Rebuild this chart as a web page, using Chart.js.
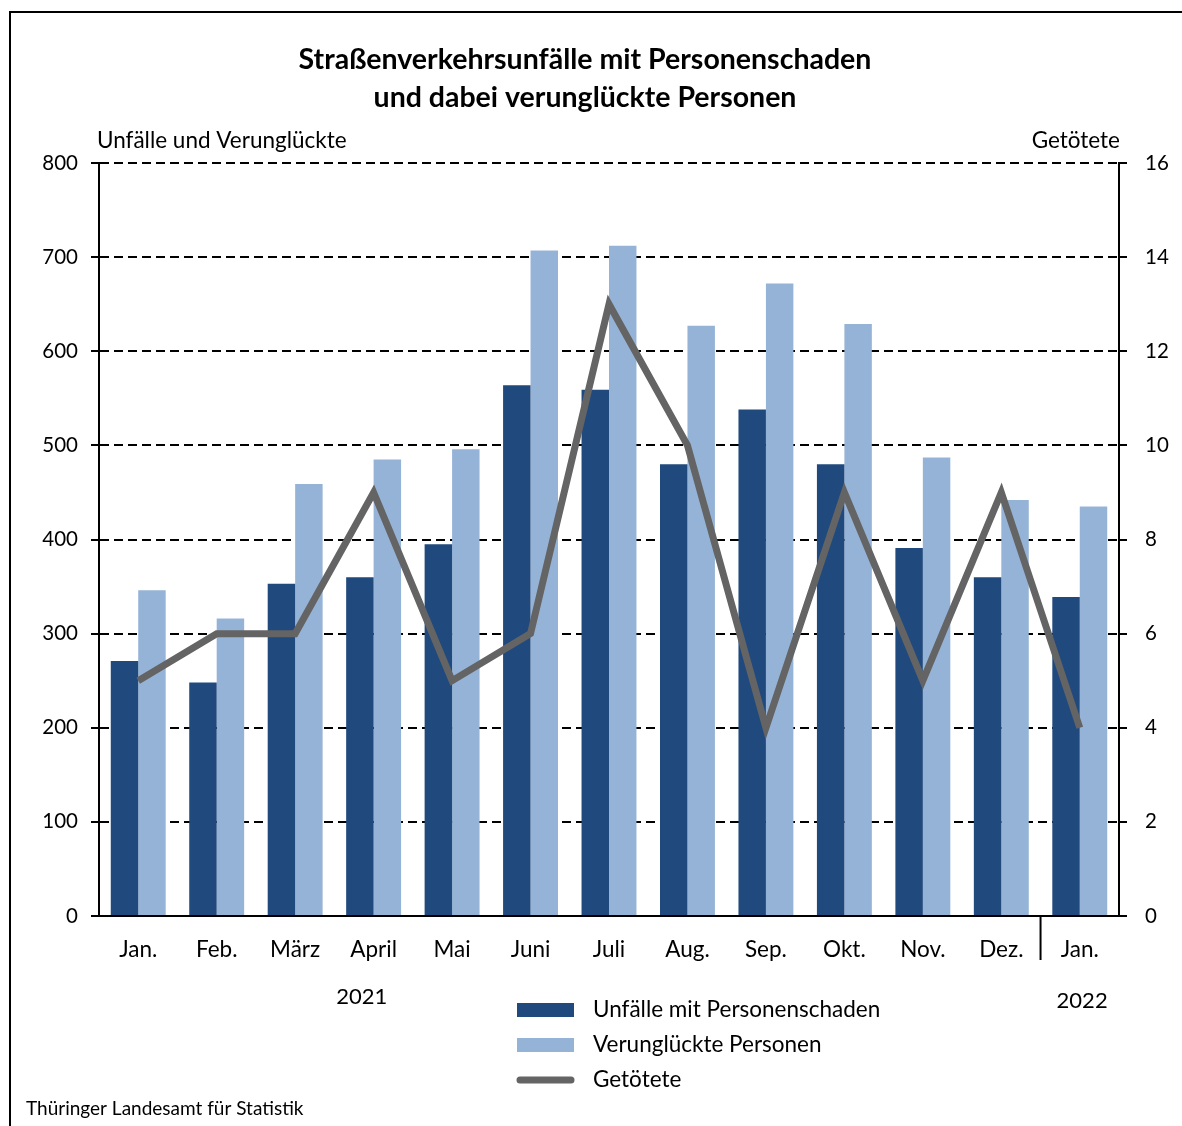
<!DOCTYPE html>
<html lang="de">
<head>
<meta charset="UTF-8">
<title>Straßenverkehrsunfälle</title>
<script src="https://cdn.jsdelivr.net/npm/chart.js@4.4.1/dist/chart.umd.min.js"></script>
<style>
  html, body { margin: 0; padding: 0; background: #fff; }
  #wrap { width: 1182px; height: 1126px; }
</style>
</head>
<body>
<div id="wrap"><canvas id="chart" width="1182" height="1126"></canvas></div>
<script>
// data
const months = ['Jan.', 'Feb.', 'März', 'April', 'Mai', 'Juni', 'Juli', 'Aug.', 'Sep.', 'Okt.', 'Nov.', 'Dez.', 'Jan.'];
const unfaelle = [271, 248, 353, 360, 395, 564, 559, 480, 538, 480, 391, 360, 339];
const verunglueckte = [346, 316, 459, 485, 496, 707, 712, 627, 672, 629, 487, 442, 435];
const getoetete = [5, 6, 6, 9, 5, 6, 13, 10, 4, 9, 5, 9, 4];
const leftTicks = [0, 100, 200, 300, 400, 500, 600, 700, 800];
const rightTicks = [0, 2, 4, 6, 8, 10, 12, 14, 16];

const FONT = 'Lato';
const dark = '#204a7e';
const light = '#95b3d7';
const grey = '#646464';

// title, axis captions, year labels, separator, legend, source, frame
const decor = {
  id: 'decor',
  afterDraw(chart) {
    const ctx = chart.ctx;
    const x = chart.scales.x;
    const area = chart.chartArea;
    ctx.save();
    ctx.strokeStyle = '#000';
    ctx.lineWidth = 2;
    ctx.strokeRect(10, 12, 1300, 1300);

    ctx.fillStyle = '#000';
    ctx.textAlign = 'center';
    ctx.textBaseline = 'middle';
    ctx.font = 'bold 28.5px ' + FONT;
    ctx.fillText('Straßenverkehrsunfälle mit Personenschaden', 585, 60);
    ctx.fillText('und dabei verunglückte Personen', 585, 98);

    ctx.font = '22.5px ' + FONT;
    ctx.textAlign = 'left';
    ctx.fillText('Unfälle und Verunglückte', area.left - 2, 141);
    ctx.textAlign = 'right';
    ctx.fillText('Getötete', area.right + 1, 141);

    // year separator between Dez. and Jan.
    const sep = (x.getPixelForValue(11) + x.getPixelForValue(12)) / 2;
    ctx.beginPath();
    ctx.moveTo(sep, area.bottom);
    ctx.lineTo(sep, area.bottom + 44);
    ctx.stroke();

    ctx.textAlign = 'center';
    ctx.font = '22px ' + FONT;
    ctx.fillText('2021', x.getPixelForValue(2.85), 997);
    ctx.fillText('2022', x.getPixelForValue(12.03), 1001);

    // legend
    const ds = chart.data.datasets;
    const lx = 517, lw = 57;
    const rows = [1010, 1045, 1080];
    ds.forEach((d, i) => {
      const y = rows[i];
      if (d.type === 'line') {
        ctx.strokeStyle = d.borderColor;
        ctx.lineWidth = 7;
        ctx.lineCap = 'round';
        ctx.beginPath();
        ctx.moveTo(lx + 3, y);
        ctx.lineTo(lx + lw - 3, y);
        ctx.stroke();
      } else {
        ctx.fillStyle = d.backgroundColor;
        ctx.fillRect(lx, y - 7, lw, 14);
      }
      ctx.fillStyle = '#000';
      ctx.textAlign = 'left';
      ctx.font = '22.5px ' + FONT;
      ctx.fillText(d.label, 593, y);
    });

    ctx.font = '19px ' + FONT;
    ctx.fillText('Thüringer Landesamt für Statistik', 26, 1109);
    ctx.restore();
  }
};

new Chart(document.getElementById('chart'), {
  data: {
    labels: months,
    datasets: [
      { type: 'bar', label: 'Unfälle mit Personenschaden', data: unfaelle, backgroundColor: dark, yAxisID: 'y', order: 2 },
      { type: 'bar', label: 'Verunglückte Personen', data: verunglueckte, backgroundColor: light, yAxisID: 'y', order: 2 },
      { type: 'line', label: 'Getötete', data: getoetete, borderColor: grey, borderWidth: 7, pointRadius: 0,
        tension: 0, yAxisID: 'y2', order: 1, borderJoinStyle: 'miter' }
    ]
  },
  options: {
    responsive: false,
    animation: false,
    devicePixelRatio: 1,
    layout: { padding: { top: 163, left: 0, right: 0, bottom: 0 } },
    plugins: { legend: { display: false }, tooltip: { enabled: false } },
    datasets: { bar: { categoryPercentage: 0.7, barPercentage: 1.0 } },
    scales: {
      x: {
        grid: { display: false },
        border: { color: '#000', width: 2 },
        ticks: { color: '#000', font: { family: FONT, size: 22.5 }, padding: 12, maxRotation: 0 },
        afterFit(s) { s.height = 210; }
      },
      y: {
        position: 'left',
        min: 0, max: 800,
        afterBuildTicks(s) { s.ticks = leftTicks.map(v => ({ value: v })); },
        grid: { color: '#000', lineWidth: 2, tickLength: 8, tickBorderDash: [], tickColor: '#000' },
        border: { color: '#000', width: 2, dash: [9, 5] },
        ticks: { color: '#000', font: { family: FONT, size: 20.5 }, padding: 13 },
        afterFit(s) { s.width = 99; }
      },
      y2: {
        position: 'right',
        min: 0, max: 16,
        afterBuildTicks(s) { s.ticks = rightTicks.map(v => ({ value: v })); },
        grid: { drawOnChartArea: false, color: '#000', lineWidth: 2, tickLength: 8, tickColor: '#000' },
        border: { color: '#000', width: 2 },
        ticks: { color: '#000', font: { family: FONT, size: 20.5 }, padding: 18 },
        afterFit(s) { s.width = 63; }
      }
    }
  },
  plugins: [decor]
});
</script>
</body>
</html>
